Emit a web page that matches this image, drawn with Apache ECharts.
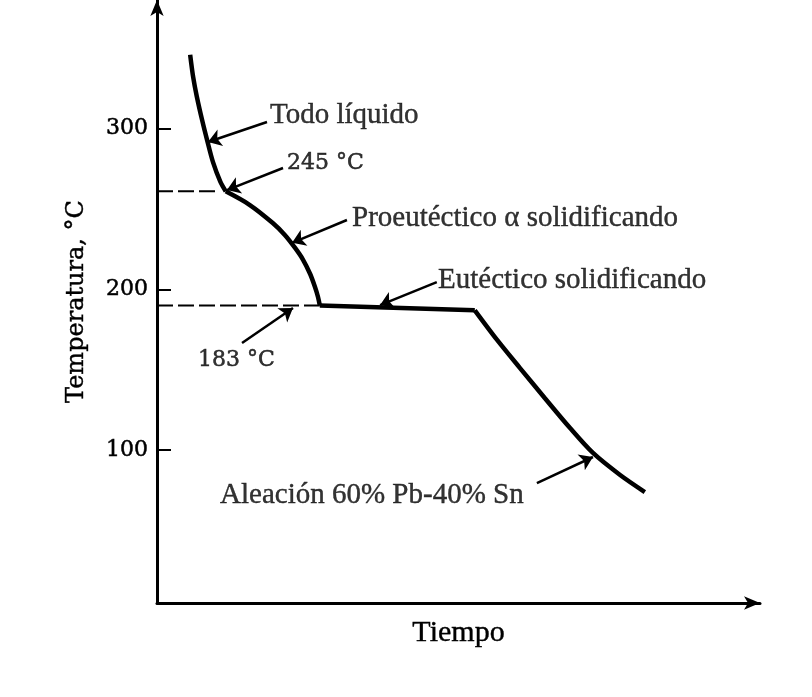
<!DOCTYPE html>
<html>
<head>
<meta charset="utf-8">
<script src="https://cdn.jsdelivr.net/npm/echarts@6/dist/echarts.min.js"></script>
<style>
html,body{margin:0;padding:0;background:#fff;}
#chart{width:812px;height:697px;}
</style>
</head>
<body>
<div id="chart"></div>
<script>
// ---- Data ----
const yTickValues = [100, 200, 300];

// Stage 1: all liquid
const timeLiquid = [5.5, 6.0, 6.6, 7.5, 8.3, 9.3, 10.5, 11.4];
const tempLiquid = [346, 332, 320, 305, 293, 279, 267, 261];
// Stage 2: proeutectic alpha solidifying
const timeProeutectic = [11.4, 15.4, 19.2, 21.2, 22.9, 24.2, 25.4, 26.2, 26.7, 27.0];
const tempProeutectic = [261, 252.5, 241.3, 233.9, 225.8, 218.6, 209.6, 201.5, 195.3, 190];
// Stage 3: eutectic solidifying (plateau)
const timeEutectic = [27.0, 52.7];
const tempEutectic = [190, 187];
// Stage 4: cooling of solid
const timeCooling = [52.7, 56.4, 60.2, 64.3, 68.5, 72.3, 76.8, 80.9];
const tempCooling = [187, 168.6, 151.1, 132.5, 113.8, 98.3, 84.6, 74.0];

// Reference (dashed) temperatures
const kneeTemp = 261;       // labelled 245 °C
const eutecticTemp = 190;   // labelled 183 °C

// Annotation texts with anchor (text) and arrow tip in data coordinates
const annotations = [
  { text: 'Todo líquido', font: 'serifA', at: [18.74, 308.0], from: [18.24, 304.1], to: [8.46, 291.7] },
  { text: '245 °C', font: 'serifB', at: [21.56, 278.6], from: [20.9, 275.5], to: [11.6, 261.8] },
  { text: 'Proeutéctico α solidificando', font: 'serifA', at: [32.34, 244.4], from: [31.5, 243.2], to: [22.4, 229.0] },
  { text: 'Eutéctico solidificando', font: 'serifA', at: [46.6, 205.9], from: [46.4, 204.6], to: [37.0, 190.3] },
  { text: '183 °C', font: 'serifB', at: [6.8, 156.1], from: [14.1, 166.7], to: [22.55, 188.5] },
  { text: 'Aleación 60% Pb-40% Sn', font: 'serifA', at: [10.45, 72.2], from: [63.0, 79.6], to: [72.3, 95.8] }
];

const zip = (a, b) => a.map((v, i) => [v, b[i]]);
const INK = '#000';
const fonts = {
  serifA: { fontFamily: 'Liberation Serif', fontSize: 29, textBorderColor: INK, textBorderWidth: 0.4 },
  serifB: { fontFamily: 'DejaVu Serif', fontSize: 22, textBorderColor: INK, textBorderWidth: 0.5 }
};

const curveStyle = { color: INK, width: 4.5 };
const dashStyle = { color: INK, width: 2, type: [16, 5] };

const chart = echarts.init(document.getElementById('chart'), null, { renderer: 'canvas' });

const curve = (t, v, smooth) => ({
  type: 'line', data: zip(t, v), smooth: smooth,
  symbol: 'none', lineStyle: curveStyle, silent: true
});

const series = [
  curve(timeLiquid, tempLiquid, 0.3),
  curve(timeProeutectic, tempProeutectic, 0.3),
  curve(timeEutectic, tempEutectic, false),
  curve(timeCooling, tempCooling, 0.3),
  { type: 'line', data: [[0, kneeTemp], [timeLiquid[timeLiquid.length - 1] - 1.3, kneeTemp]], symbol: 'none', lineStyle: dashStyle, silent: true },
  { type: 'line', data: [[0, eutecticTemp], [timeEutectic[0], eutecticTemp]], symbol: 'none', lineStyle: dashStyle, silent: true },
  {
    type: 'lines', coordinateSystem: 'cartesian2d', silent: true,
    symbol: ['none', 'arrow'], symbolSize: [9, 13],
    lineStyle: { color: INK, width: 2.5, opacity: 1 },
    data: annotations.map(a => ({ coords: [a.from, a.to] }))
  },
  {
    type: 'scatter', symbolSize: 0, silent: true,
    data: annotations.map(a => ({
      value: a.at,
      label: Object.assign({ show: true, position: 'right', distance: 0, formatter: a.text, color: INK }, fonts[a.font])
    }))
  }
];

chart.setOption({
  backgroundColor: '#fff',
  animation: false,
  grid: { left: 157, right: 52, top: 0, bottom: 94, containLabel: false },
  xAxis: {
    type: 'value', min: 0, max: 100,
    axisLine: { show: true, onZero: false, symbol: ['none', 'arrow'], symbolSize: [10, 16], lineStyle: { color: INK, width: 3 } },
    axisTick: { show: false }, axisLabel: { show: false }, splitLine: { show: false },
    name: 'Tiempo', nameLocation: 'middle', nameGap: 15,
    nameTextStyle: { color: INK, fontFamily: 'Liberation Serif', fontSize: 30, verticalAlign: 'top', textBorderColor: INK, textBorderWidth: 0.4 }
  },
  yAxis: {
    type: 'value', min: 5, max: 380,
    axisLine: { show: true, onZero: false, symbol: ['none', 'arrow'], symbolSize: [10, 16], lineStyle: { color: INK, width: 3 } },
    axisTick: { show: true, inside: true, length: 14, customValues: yTickValues, lineStyle: { color: INK, width: 2 } },
    axisLabel: { show: true, customValues: yTickValues, margin: 9, color: INK, fontFamily: 'DejaVu Serif', fontSize: 22, textBorderColor: INK, textBorderWidth: 0.5 },
    splitLine: { show: false },
    name: 'Temperatura, °C', nameLocation: 'middle', nameGap: 68, nameRotate: 90,
    nameTextStyle: { color: INK, fontFamily: 'DejaVu Serif', fontSize: 24, textBorderColor: INK, textBorderWidth: 0.4 }
  },
  series: series
});
</script>
</body>
</html>
